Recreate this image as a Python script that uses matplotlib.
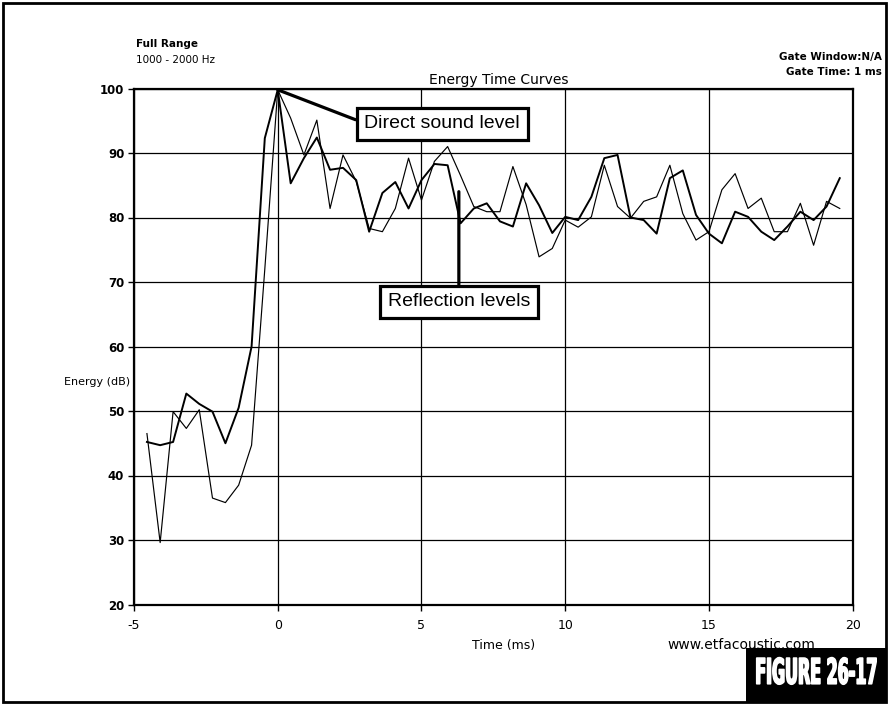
import matplotlib
matplotlib.use("Agg")
import matplotlib.pyplot as plt
from matplotlib.patches import Rectangle
from matplotlib.patheffects import AbstractPathEffect
from matplotlib.transforms import Affine2D

plt.rcParams['font.family'] = 'DejaVu Sans'
plt.rcParams['axes.unicode_minus'] = False

# sample times (ms)
time_ms = [-4.55, -4.09, -3.64, -3.18, -2.73, -2.27, -1.82, -1.36, -0.91, -0.45,
           0.00, 0.45, 0.91, 1.36, 1.82, 2.27, 2.73, 3.18, 3.64, 4.09,
           4.55, 5.00, 5.45, 5.91, 6.36, 6.82, 7.27, 7.73, 8.18, 8.64,
           9.09, 9.55, 10.00, 10.45, 10.91, 11.36, 11.82, 12.27, 12.73, 13.18,
           13.64, 14.09, 14.55, 15.00, 15.45, 15.91, 16.36, 16.82, 17.27, 17.73,
           18.18, 18.64, 19.09, 19.55]

energy_a = [46.5, 29.6, 49.9, 47.3, 50.2, 36.5, 35.8, 38.5, 44.7, 72.0,
            99.8, 95.4, 89.7, 95.1, 81.4, 89.7, 85.6, 78.3, 77.8, 81.4,
            89.2, 82.7, 88.7, 91.0, 86.5, 81.7, 80.9, 80.9, 87.9, 82.0,
            73.9, 75.2, 79.6, 78.5, 80.1, 88.1, 81.7, 79.9, 82.5, 83.2,
            88.1, 80.6, 76.5, 77.8, 84.3, 86.8, 81.4, 83.0, 77.8, 77.8,
            82.2, 75.7, 82.5, 81.4]

energy_b = [45.2, 44.7, 45.2, 52.7, 51.1, 49.9, 45.0, 50.5, 60.0, 92.3,
            99.8, 85.3, 89.2, 92.4, 87.4, 87.7, 85.8, 77.8, 83.8, 85.5,
            81.4, 85.8, 88.3, 88.1, 79.1, 81.4, 82.2, 79.4, 78.6, 85.3,
            81.9, 77.6, 80.1, 79.6, 83.2, 89.2, 89.7, 80.0, 79.6, 77.5,
            86.1, 87.3, 80.4, 77.5, 76.0, 80.9, 80.1, 77.8, 76.5, 78.6,
            80.9, 79.6, 81.7, 86.1]

x_ticks = [-5, 0, 5, 10, 15, 20]
y_ticks = [20, 30, 40, 50, 60, 70, 80, 90, 100]

W, H = 889, 705


class Squeeze(AbstractPathEffect):
    # stretch the glyphs about a fixed point (display px), thicken them a bit
    def __init__(self, cx, cy, sx, sy, lw):
        super().__init__()
        self.cx, self.cy, self.sx, self.sy, self.lw = cx, cy, sx, sy, lw

    def draw_path(self, renderer, gc, tpath, affine, rgbFace=None):
        squeeze = (Affine2D().translate(-self.cx, -self.cy)
                   .scale(self.sx, self.sy).translate(self.cx, self.cy))
        gc0 = renderer.new_gc()
        gc0.copy_properties(gc)
        gc0.set_linewidth(self.lw)
        gc0.set_foreground('white')
        renderer.draw_path(gc0, tpath, affine + squeeze, rgbFace)
        gc0.restore()


fig = plt.figure(figsize=(W / 100, H / 100), dpi=100)
ax = fig.add_axes([134 / W, 1 - 604.5 / H, (852.7 - 134) / W, (604.5 - 88.5) / H])

ax.plot(time_ms, energy_a, color='black', lw=0.85)
ax.plot(time_ms, energy_b, color='black', lw=1.4)

ax.set_xlim(-5, 20)
ax.set_ylim(20, 100)
ax.set_xticks(x_ticks)
ax.set_yticks(y_ticks)
ax.set_xticklabels([str(v) for v in x_ticks], fontsize=9)
ax.set_yticklabels([str(v) for v in y_ticks], fontsize=8.5, fontweight='bold')
ax.tick_params(length=4, width=1, pad=3, direction='out')
ax.tick_params(axis='x', pad=6.5)
ax.grid(True, color='black', lw=0.9)
ax.set_axisbelow(True)
for side in ['left', 'bottom', 'top', 'right']:
    ax.spines[side].set_linewidth(1.6)

# annotation boxes
box = dict(boxstyle='square,pad=0.4', fc='white', ec='black', lw=2.3)
ax.annotate('Direct sound level', xy=(time_ms[10], energy_a[10]), xytext=(5.72, 94.5),
            fontsize=14, family='Liberation Sans', ha='center', va='center', bbox=box,
            arrowprops=dict(arrowstyle='-', lw=2.3, shrinkA=0, shrinkB=0, relpos=(0, 0.55)))
ax.annotate('Reflection levels', xy=(6.3, 84.0), xytext=(6.3, 66.9),
            fontsize=14, family='Liberation Sans', ha='center', va='center', bbox=box,
            arrowprops=dict(arrowstyle='-', lw=2.3, shrinkA=0, shrinkB=0, relpos=(0.5, 1)))

# header / footer text
fig.text(136 / W, 1 - 44 / H, 'Full Range', fontsize=7.5, fontweight='bold', va='center')
fig.text(136 / W, 1 - 60 / H, '1000 - 2000 Hz', fontsize=7.5, va='center')
fig.text(882 / W, 1 - 57 / H, 'Gate Window:N/A', fontsize=7.5, fontweight='bold', ha='right', va='center')
fig.text(882 / W, 1 - 72 / H, 'Gate Time: 1 ms', fontsize=7.5, fontweight='bold', ha='right', va='center')
fig.text(499 / W, 1 - 80 / H, 'Energy Time Curves', fontsize=10, ha='center', va='center')
fig.text(64 / W, 1 - 382 / H, 'Energy (dB)', fontsize=8, va='center')
fig.text(504 / W, 1 - 645 / H, 'Time (ms)', fontsize=9, ha='center', va='center')
fig.text(741 / W, 1 - 645 / H, 'www.etfacoustic.com', fontsize=10, ha='center', va='center')

# outer frame and figure tag
fig.add_artist(Rectangle((3 / W, 3 / H), 883 / W, 699 / H, transform=fig.transFigure,
                         fill=False, ec='black', lw=2))
fig.add_artist(Rectangle((746 / W, 3 / H), 140 / W, 54 / H, transform=fig.transFigure,
                         fc='black', ec='black', lw=0))
fig.text(816 / W, 1 - 674 / H, 'FIGURE 26-17', fontsize=13, fontweight='bold', color='white',
         ha='center', va='center', path_effects=[Squeeze(816, 31, 0.88, 1.95, 1.2)])

plt.savefig('out.png', dpi=100)
plt.close()
